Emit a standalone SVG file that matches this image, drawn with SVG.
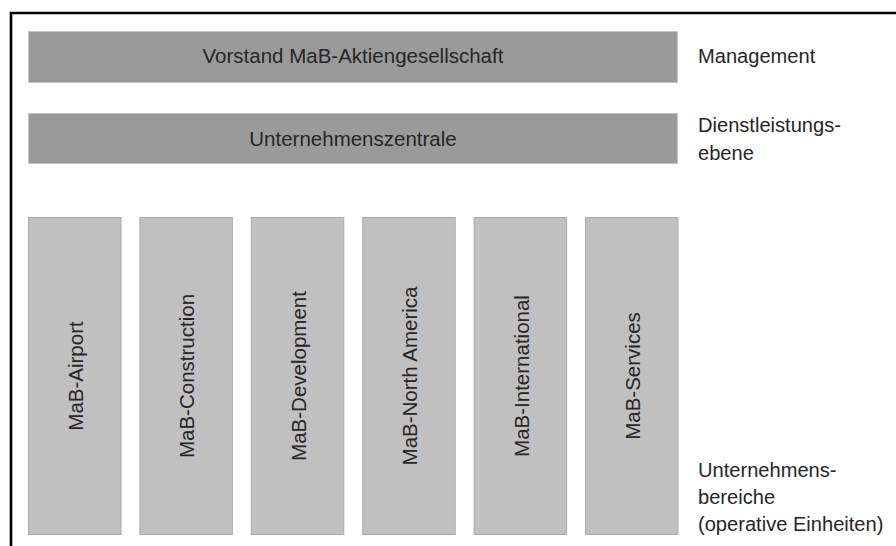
<svg xmlns="http://www.w3.org/2000/svg" width="896" height="546" viewBox="0 0 896 546">
  <style>
    .frame { stroke: #000; stroke-width: 2.6; fill: none; }
    .bar { fill: #9a9a9a; stroke: #c4c4c4; stroke-width: 1; }
    .unit { fill: #c0c0c0; stroke: #aaaaaa; stroke-width: 1; }
    .t { font-family: "Liberation Sans", Arial, Helvetica, sans-serif; font-size: 20.5px; fill: #262626; }
    .c { text-anchor: middle; }
    .lbl { font-size: 20.1px; }
  </style>
  <rect width="896" height="546" fill="#ffffff"/>

  <!-- outer frame: top and left edges -->
  <g id="frame">
    <path class="frame" d="M11 546 V13 H896"/>
  </g>

  <!-- no connectors in this chart -->
  <g id="connectors"></g>

  <g id="vorstand">
    <rect class="bar" x="28.5" y="31.5" width="649" height="51"/>
    <text class="t c" x="353" y="63">Vorstand MaB-Aktiengesellschaft</text>
  </g>

  <g id="zentrale">
    <rect class="bar" x="28.5" y="113.5" width="649" height="50"/>
    <text class="t c" x="353" y="146">Unternehmenszentrale</text>
  </g>

  <g id="airport">
    <rect class="unit" x="28.5" y="217.5" width="92.5" height="317"/>
    <text class="t c" transform="translate(83 376) rotate(-90)">MaB-Airport</text>
  </g>
  <g id="construction">
    <rect class="unit" x="139.9" y="217.5" width="92.5" height="317"/>
    <text class="t c" transform="translate(194.4 376) rotate(-90)">MaB-Construction</text>
  </g>
  <g id="development">
    <rect class="unit" x="251.3" y="217.5" width="92.5" height="317"/>
    <text class="t c" transform="translate(305.8 376) rotate(-90)">MaB-Development</text>
  </g>
  <g id="north-america">
    <rect class="unit" x="362.7" y="217.5" width="92.5" height="317"/>
    <text class="t c" transform="translate(417.2 376) rotate(-90)">MaB-North America</text>
  </g>
  <g id="international">
    <rect class="unit" x="474.1" y="217.5" width="92.5" height="317"/>
    <text class="t c" transform="translate(528.6 376) rotate(-90)">MaB-International</text>
  </g>
  <g id="services">
    <rect class="unit" x="585.5" y="217.5" width="92.5" height="317"/>
    <text class="t c" transform="translate(640 376) rotate(-90)">MaB-Services</text>
  </g>

  <!-- level labels on the right -->
  <g id="label-management">
    <text class="t lbl" x="698" y="63">Management</text>
  </g>
  <g id="label-dienstleistung">
    <text class="t lbl" x="698" y="132">Dienstleistungs-</text>
    <text class="t lbl" x="698" y="160">ebene</text>
  </g>
  <g id="label-bereiche">
    <text class="t lbl" x="698" y="477">Unternehmens-</text>
    <text class="t lbl" x="698" y="504">bereiche</text>
    <text class="t lbl" x="698" y="531">(operative Einheiten)</text>
  </g>
</svg>
